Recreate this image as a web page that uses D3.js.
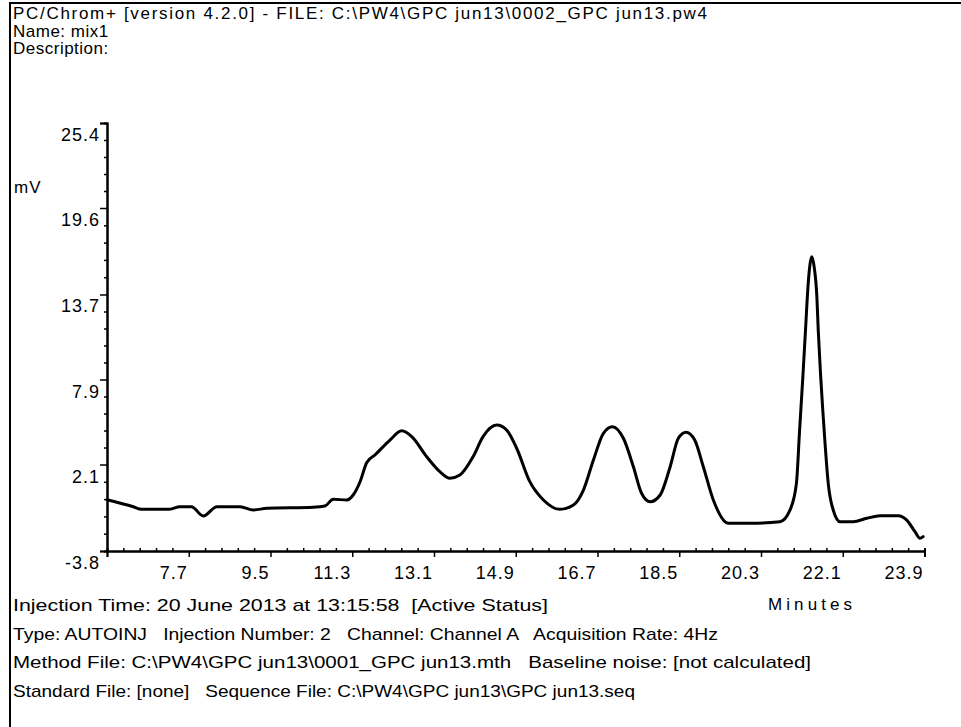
<!DOCTYPE html>
<html>
<head>
<meta charset="utf-8">
<script src="https://cdn.jsdelivr.net/npm/d3@7/dist/d3.min.js"></script>
<style>
  body { margin: 0; background: #fff; }
  svg text { font-family: "Liberation Sans", Arial, sans-serif; fill: #000; white-space: pre; }
</style>
</head>
<body>
<svg id="chart" width="961" height="727"></svg>
<script>
// retention time (minutes) and detector signal (mV)
const times = [5.9, 6.48, 6.66, 7.25, 7.51, 7.76, 8.02, 8.32, 8.83, 9.12, 9.42, 10.44, 10.70, 10.88,
  11.18, 11.32, 11.47, 11.62, 11.80, 12.13, 12.39, 12.61, 12.94, 13.23, 13.45, 13.67, 13.96, 14.18,
  14.48, 14.70, 14.92, 15.21, 15.51, 15.87, 16.17, 16.39, 16.61, 16.83, 17.03, 17.27, 17.49, 17.67,
  17.86, 18.08, 18.30, 18.48, 18.65, 18.84, 19.03, 19.25, 19.58, 20.06, 20.72, 20.94, 21.08, 21.15,
  21.22, 21.28, 21.34, 21.42, 21.47, 21.53, 21.56, 21.61, 21.66, 21.71, 21.78, 21.89, 22.04,
  22.33, 22.63, 22.92, 23.32, 23.51, 23.69, 23.80, 23.87]
const signal = [-0.30, -0.78, -0.96, -0.96, -0.78, -0.78, -1.41, -0.78, -0.78, -1.00, -0.89, -0.82, -0.73, -0.27,
  -0.32, 0.02, 0.91, 2.24, 2.75, 3.77, 4.40, 4.00, 2.63, 1.61, 1.16, 1.38, 2.63, 4.00,
  4.79, 4.45, 3.21, 0.93, -0.32, -0.96, -0.66, 0.36, 2.41, 4.23, 4.68, 3.89, 1.95, 0.14,
  -0.44, 0.02, 1.95, 3.89, 4.30, 3.77, 1.95, -0.32, -1.91, -1.91, -1.80, -1.00, 0.82, 4.45,
  8.00, 11.28, 14.48, 16.27, 15.59, 13.55, 11.28, 8.32, 5.82, 3.55, 0.82, -1.00, -1.80,
  -1.80, -1.57, -1.39, -1.39, -1.69, -2.48, -2.93, -2.82]

const yTicks = [-3.8, 2.1, 7.9, 13.7, 19.6, 25.4]
const xTicks = [5.9, 7.7, 9.5, 11.3, 13.1, 14.9, 16.7, 18.5, 20.3, 22.1, 23.9]

const headerLines = [
  'PC/Chrom+ [version 4.2.0] - FILE: C:\\PW4\\GPC jun13\\0002_GPC jun13.pw4',
  'Name: mix1',
  'Description:'
]
const footerLines = [
  'Injection Time: 20 June 2013 at 13:15:58  [Active Status]',
  'Type: AUTOINJ   Injection Number: 2   Channel: Channel A   Acquisition Rate: 4Hz',
  'Method File: C:\\PW4\\GPC jun13\\0001_GPC jun13.mth   Baseline noise: [not calculated]',
  'Standard File: [none]   Sequence File: C:\\PW4\\GPC jun13\\GPC jun13.seq'
]
const footerWidths = [535, 705, 798, 622]

const svg = d3.select('#chart')
const x = d3.scaleLinear().domain([5.9, 23.9]).range([107, 924.5])
const y = d3.scaleLinear().domain([-3.8, 25.4]).range([551, 123])

// frame
svg.append('line').attr('x1', 10).attr('x2', 10).attr('y1', 3).attr('y2', 727)
   .attr('stroke', '#000').attr('stroke-width', 2)
svg.append('line').attr('x1', 9).attr('x2', 961).attr('y1', 3).attr('y2', 3)
   .attr('stroke', '#000').attr('stroke-width', 2)

svg.selectAll('text.header').data(headerLines).enter().append('text')
   .attr('class', 'header')
   .attr('x', 13).attr('y', (d, i) => 19 + i * 17.5)
   .attr('font-size', 17)
   .attr('letter-spacing', (d, i) => i == 0 ? 0 : 0.5)
   .attr('textLength', (d, i) => i == 0 ? 694 : null).attr('lengthAdjust', 'spacing')
   .text(d => d)

// minor ticks: 5 steps between labelled ticks
const minor = (ticks) => d3.merge(d3.pairs(ticks).map(([a, b]) => d3.range(1, 5).map(k => a + (b - a) * k / 5)))

// y axis
const yAxis = svg.append('g').attr('transform', 'translate(107,0)')
yAxis.call(d3.axisLeft(y).tickValues(minor(yTicks)).tickSize(3).tickFormat(''))
yAxis.append('g').call(d3.axisLeft(y).tickValues(yTicks).tickSize(7).tickFormat(''))
yAxis.selectAll('path.domain').attr('stroke-width', 2)
yAxis.selectAll('.tick line').attr('stroke-width', 1.5)
yAxis.selectAll('text.ylab').data(yTicks).enter().append('text')
   .attr('class', 'ylab')
   .attr('x', -7).attr('y', d => y(d) + 18)
   .attr('text-anchor', 'end').attr('font-size', 18).attr('letter-spacing', 1)
   .text(d => d.toFixed(1))

svg.append('text').attr('x', 14).attr('y', 193).attr('font-size', 17).attr('letter-spacing', 1).text('mV')

// x axis
const xAxis = svg.append('g').attr('transform', 'translate(0,551)')
xAxis.call(d3.axisTop(x).tickValues(minor(xTicks)).tickSize(3).tickFormat(''))
xAxis.append('g').call(d3.axisBottom(x).tickValues(xTicks).tickSize(6).tickFormat(''))
xAxis.selectAll('path.domain').attr('stroke-width', 2)
xAxis.selectAll('.tick line').attr('stroke-width', 1.5)
xAxis.selectAll('text.xlab').data(xTicks.slice(1)).enter().append('text')
   .attr('class', 'xlab')
   .attr('x', d => x(d) - 1).attr('y', 28)
   .attr('text-anchor', 'end').attr('font-size', 18).attr('letter-spacing', 1)
   .text(d => d.toFixed(1))

svg.append('text').attr('x', 768).attr('y', 610).attr('font-size', 17)
   .attr('textLength', 84).attr('lengthAdjust', 'spacing').text('Minutes')

// trace
const line = d3.line().x((d, i) => x(times[i])).y(d => y(d)).curve(d3.curveMonotoneX)
svg.append('path').datum(signal)
   .attr('d', line)
   .attr('fill', 'none').attr('stroke', '#000').attr('stroke-width', 3)
   .attr('stroke-linejoin', 'round').attr('stroke-linecap', 'round')

svg.selectAll('text.footer').data(footerLines).enter().append('text')
   .attr('class', 'footer')
   .attr('x', 13).attr('y', (d, i) => 611 + i * 28.5)
   .attr('font-size', 17)
   .attr('textLength', (d, i) => footerWidths[i]).attr('lengthAdjust', 'spacingAndGlyphs')
   .text(d => d)
</script>
</body>
</html>
